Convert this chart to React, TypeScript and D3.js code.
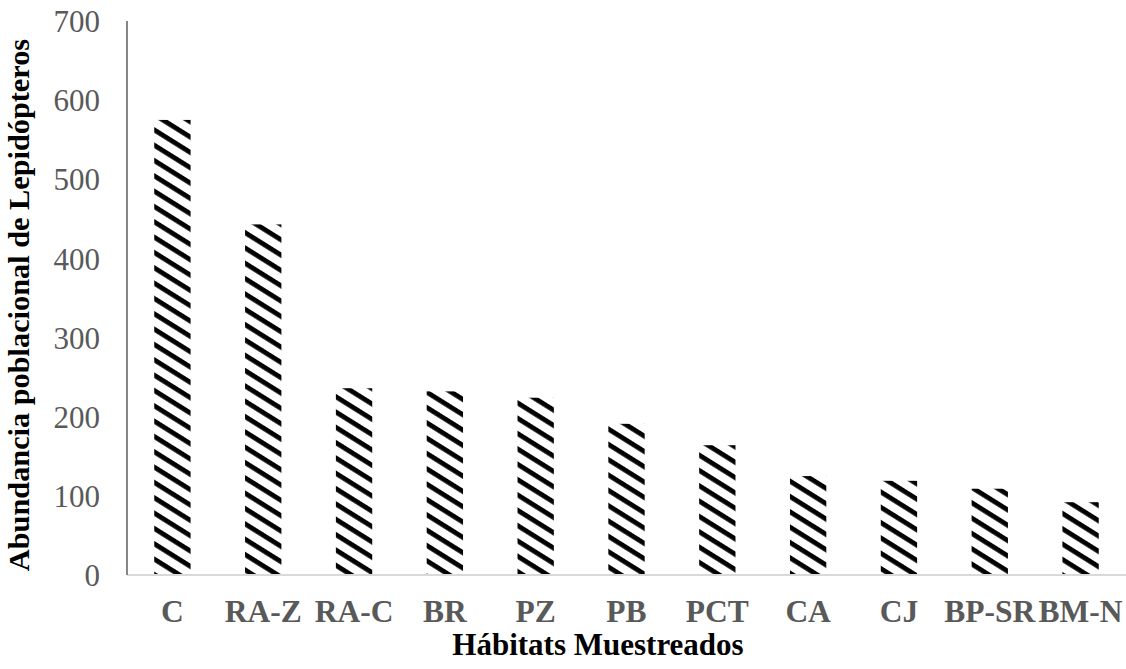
import React from "react";
import * as d3 from "d3";

const categories = ["C", "RA-Z", "RA-C", "BR", "PZ", "PB", "PCT", "CA", "CJ", "BP-SR", "BM-N"];
const values = [575, 443, 236, 232, 224, 191, 164, 125, 119, 109, 92];
const yTicks = [0, 100, 200, 300, 400, 500, 600, 700];
const yTitle = "Abundancia poblacional de Lepidópteros";
const xTitle = "Hábitats Muestreados";

const W = 1126;
const H = 669;
const left = 127;
const right = 1126;
const top = 21;
const bottom = 575;
const font = "'Liberation Serif', 'Times New Roman', serif";

export default function App() {
  const x = d3.scaleBand<string>().domain(categories).range([left, right]).paddingInner(0.6).paddingOuter(0.3);
  const y = d3.scaleLinear().domain([0, 700]).range([bottom, top]);

  return (
    <svg
      width={W}
      height={H}
      style={{ position: "absolute", left: 0, top: 0, background: "#fff" }}
    >
      <defs>
        <pattern
          id="hatch"
          patternUnits="userSpaceOnUse"
          width={12}
          height={13}
          patternTransform="rotate(32)"
        >
          <rect x={0} y={0} width={12} height={13} fill="#fff" />
          <rect x={0} y={0} width={12} height={4.8} fill="#000" />
        </pattern>
      </defs>
      {categories.map((c, i) => (
        <rect
          key={c}
          x={x(c)}
          y={y(values[i])}
          width={x.bandwidth()}
          height={y(0) - y(values[i])}
          fill="url(#hatch)"
        />
      ))}
      <line x1={left} x2={right} y1={bottom} y2={bottom} stroke="#d9d9d9" strokeWidth={2} />
      <line x1={left} x2={left} y1={top} y2={bottom} stroke="#868686" strokeWidth={2} />
      {yTicks.map((t) => (
        <text
          key={t}
          x={100}
          y={y(t)}
          dy="0.36em"
          textAnchor="end"
          fontFamily={font}
          fontSize={31}
          fill="#595959"
        >
          {t}
        </text>
      ))}
      {categories.map((c) => (
        <text
          key={c}
          x={(x(c) as number) + x.bandwidth() / 2}
          y={622}
          textAnchor="middle"
          fontFamily={font}
          fontSize={31.5}
          fontWeight="bold"
          fill="#595959"
        >
          {c}
        </text>
      ))}
      <text
        x={598}
        y={655}
        textAnchor="middle"
        fontFamily={font}
        fontSize={31}
        fontWeight="bold"
        fill="#000"
      >
        {xTitle}
      </text>
      <text
        transform={`translate(29, 305) rotate(-90)`}
        textAnchor="middle"
        fontFamily={font}
        fontSize={30.3}
        fontWeight="bold"
        fill="#000"
      >
        {yTitle}
      </text>
    </svg>
  );
}
